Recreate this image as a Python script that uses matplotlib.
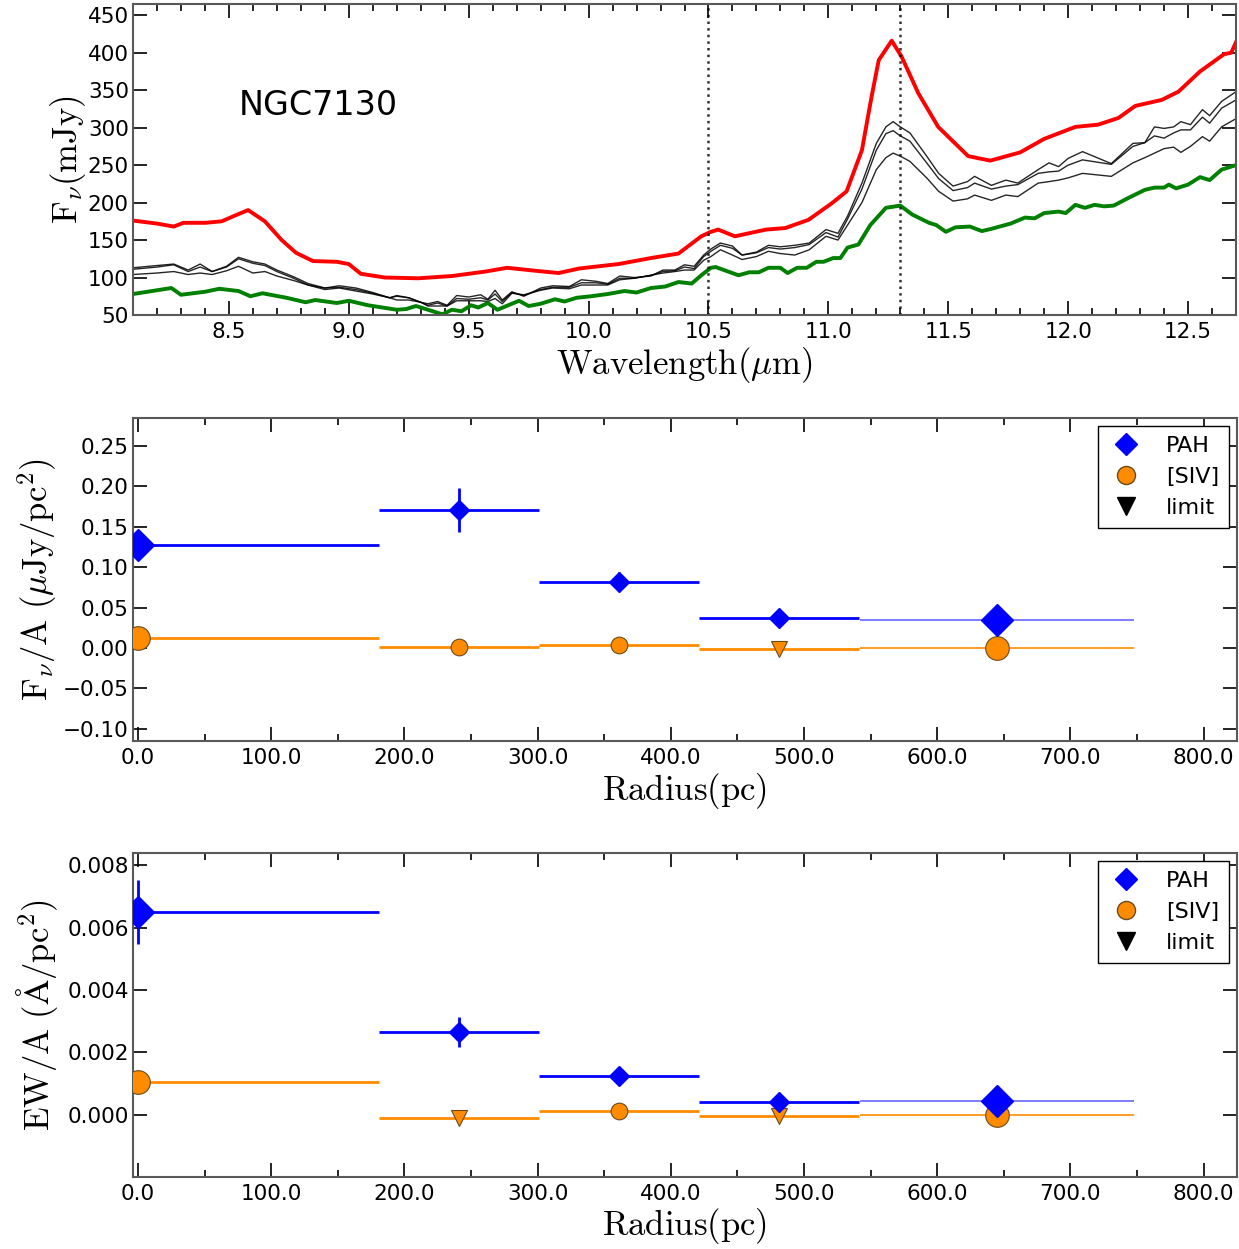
import numpy as np
import matplotlib
matplotlib.use("Agg")
import matplotlib.pyplot as plt
from matplotlib.lines import Line2D
from matplotlib.ticker import MultipleLocator, FuncFormatter

plt.rcParams["mathtext.fontset"] = "cm"
plt.rcParams["font.family"] = ["DejaVu Sans"]

# ── SPECTRA (top panel) ───────────────────────────
red_wl = [8.10, 8.20, 8.27, 8.31, 8.40, 8.47, 8.52, 8.58, 8.65, 8.72, 8.78, 8.85, 8.95,
          9.00, 9.05, 9.15, 9.29, 9.43, 9.57, 9.66, 9.78, 9.875, 9.96, 10.125, 10.26,
          10.375, 10.47, 10.51, 10.54, 10.61, 10.74, 10.82, 10.917, 11.014, 11.076,
          11.14, 11.18, 11.21, 11.264, 11.305, 11.375, 11.458, 11.583, 11.675, 11.80,
          11.90, 12.03, 12.125, 12.21, 12.28, 12.39, 12.46, 12.55, 12.65, 12.68, 12.70]
red_fx = [176, 172, 168, 173, 173, 175, 182, 190, 175, 150, 133, 122, 121,
          118, 105, 100, 99, 102, 108, 113, 109, 106, 112, 118, 126,
          132, 155, 161, 164, 155, 164, 166, 177, 199, 215,
          270, 341, 390, 416, 395, 346, 301, 262, 256, 267,
          285, 301, 304, 313, 329, 337, 348, 375, 398, 400, 414]

green_wl = [8.10, 8.26, 8.30, 8.40, 8.46, 8.54, 8.59, 8.64, 8.74, 8.82, 8.86, 8.95, 9.00,
            9.08, 9.20, 9.24, 9.28, 9.33, 9.39, 9.43, 9.47, 9.51, 9.54, 9.58, 9.62, 9.65,
            9.71, 9.75, 9.80, 9.86, 9.90, 9.95, 10.01, 10.08, 10.15, 10.20, 10.26, 10.32,
            10.375, 10.43, 10.47, 10.51, 10.53, 10.625, 10.67, 10.71, 10.75, 10.80, 10.83,
            10.87, 10.91, 10.95, 10.98, 11.02, 11.05, 11.08, 11.125, 11.175, 11.24, 11.30,
            11.35, 11.42, 11.45, 11.49, 11.53, 11.59, 11.64, 11.68, 11.76, 11.82, 11.86,
            11.90, 11.96, 11.99, 12.03, 12.07, 12.11, 12.15, 12.19, 12.25, 12.32, 12.36,
            12.40, 12.42, 12.45, 12.50, 12.55, 12.59, 12.64, 12.70]
green_fx = [78, 86, 77, 81, 85, 82, 75, 79, 73, 67, 70, 66, 69,
            63, 57, 58, 62, 57, 51, 57, 55, 63, 60, 66, 57, 61,
            69, 62, 65, 71, 68, 73, 75, 78, 82, 80, 86, 88,
            94, 92, 103, 113, 114, 103, 107, 107, 113, 113, 106,
            113, 113, 121, 121, 126, 126, 140, 144, 170, 193, 196,
            184, 173, 170, 161, 167, 168, 162, 165, 172, 180, 179,
            186, 188, 186, 197, 193, 197, 195, 196, 206, 217, 220,
            220, 224, 219, 224, 234, 230, 244, 250]

black_wl = [8.10, 8.20, 8.27, 8.33, 8.38, 8.43, 8.49, 8.54, 8.60, 8.65, 8.70, 8.77, 8.83,
            8.90, 8.96, 9.03, 9.10, 9.17, 9.20, 9.25, 9.30, 9.33, 9.37, 9.41, 9.45, 9.50,
            9.55, 9.58, 9.61, 9.64, 9.68, 9.73, 9.80, 9.85, 9.92, 9.97, 10.03, 10.08, 10.13,
            10.19, 10.26, 10.31, 10.36, 10.40, 10.44, 10.48, 10.51, 10.55, 10.60, 10.64,
            10.70, 10.75, 10.80, 10.86, 10.92, 10.99, 11.04, 11.08, 11.14, 11.20, 11.24,
            11.27, 11.30, 11.34, 11.41, 11.46, 11.52, 11.58, 11.61, 11.68, 11.74, 11.79,
            11.875, 11.92, 11.96, 12.00, 12.06, 12.18, 12.27, 12.32, 12.36, 12.40, 12.44,
            12.47, 12.51, 12.56, 12.59, 12.64, 12.70]
black1_fx = [113, 116, 118, 110, 118, 108, 115, 127, 121, 118, 110, 101, 92,
             86, 89, 86, 80, 73, 76, 73, 67, 65, 68, 63, 76, 74,
             77, 71, 83, 70, 81, 75, 86, 89, 88, 97, 95, 92, 102,
             100, 102, 110, 110, 117, 115, 130, 138, 146, 142, 130,
             134, 143, 141, 143, 146, 164, 159, 182, 226, 279, 301,
             308, 301, 293, 262, 239, 222, 228, 235, 223, 230, 226,
             244, 253, 248, 259, 268, 252, 279, 280, 301, 299, 301,
             308, 304, 324, 316, 335, 348]
black2_fx = [111, 114, 117, 108, 114, 108, 114, 125, 119, 116, 108, 99, 90,
             86, 87, 84, 79, 73, 75, 73, 67, 63, 66, 62, 72, 71,
             73, 70, 78, 68, 80, 76, 84, 87, 87, 93, 93, 91, 99,
             99, 103, 108, 109, 114, 112, 128, 135, 143, 139, 130,
             133, 140, 138, 140, 144, 160, 154, 178, 218, 270, 292,
             296, 289, 282, 253, 232, 216, 220, 226, 218, 222, 224,
             239, 241, 242, 250, 257, 251, 275, 280, 289, 286, 293,
             297, 297, 314, 306, 326, 337]
black3_fx = [104, 106, 108, 104, 106, 104, 109, 115, 106, 108, 102, 96, 90,
             84, 86, 82, 78, 73, 70, 70, 67, 62, 62, 62, 69, 69,
             69, 68, 72, 65, 79, 77, 83, 86, 85, 90, 90, 90, 97,
             99, 103, 106, 108, 110, 110, 123, 128, 137, 130, 124,
             128, 135, 132, 130, 137, 155, 150, 170, 200, 244, 260,
             266, 262, 255, 233, 215, 202, 205, 210, 203, 210, 208,
             226, 228, 230, 233, 239, 235, 253, 260, 266, 272, 274,
             267, 275, 288, 282, 301, 312]

feature_lines = [10.5, 11.3]
galaxy = "NGC7130"

# ── RADIAL PROFILES (middle / bottom) ─────────────
radius = [0, 241, 361, 481, 645]
rad_lo = [0, 60, 60, 60, 103]
rad_hi = [181, 60, 60, 60, 103]

pah_flux = [0.128, 0.171, 0.082, 0.037, 0.034]
pah_flux_err = [0.010, 0.027, 0.012, 0.004, 0.004]
siv_flux = [0.012, 0.001, 0.003, -0.001, 0.0]
siv_flux_lim = [False, False, False, True, False]

pah_ew = [0.0065, 0.00267, 0.00123, 0.00040, 0.00043]
pah_ew_err = [0.00103, 0.00048, 0.00005, 0.00003, 0.00003]
siv_ew = [0.00106, -0.0001, 0.00013, -0.00003, 0.0]
siv_ew_lim = [False, True, False, True, False]

# estilos por punto (tamaño del marcador / grosor y opacidad de la barra)
pah_ms = [16, 10, 10, 10, 16]
siv_ms = [17, 12, 12, 12, 17]
line_w = [2.0, 2.0, 2.0, 2.0, 1.2]
pah_a = [1.0, 1.0, 1.0, 1.0, 0.6]

ORANGE = "#FF8C00"
EDGE = "#6b4a1a"
TICK_FS = 15.5
LABEL_FS = 25


def fmt(spec):
    # formato con signo menos tipografico
    return FuncFormatter(lambda v, p: (spec % v).replace("-", "\u2212"))


def style_axes(ax):
    for s in ax.spines.values():
        s.set_color("0.35")
        s.set_linewidth(1.5)
    ax.tick_params(which="both", direction="in", top=True, right=True,
                   labelsize=TICK_FS, width=1.2)
    ax.tick_params(axis="x", which="both", pad=5)
    ax.tick_params(axis="y", which="both", pad=3)
    ax.tick_params(which="major", length=10)
    ax.tick_params(which="minor", length=5)


def center_labels(ax, ylab_x, xlab_y):
    ax.xaxis.label.set_va("center")
    ax.yaxis.label.set_va("center")
    ax.yaxis.label.set_ha("center")
    ax.yaxis.set_label_coords(ylab_x, 0.5)
    ax.xaxis.set_label_coords(0.5, xlab_y)


def radial_panel(ax, pah, pah_err, siv, siv_lim, ylim, ylabel, yfmt, ymajor):
    for i in range(len(radius)):
        xe = [[rad_lo[i]], [rad_hi[i]]]
        mk = "v" if siv_lim[i] else "o"
        ms = 12 if siv_lim[i] else siv_ms[i]
        ax.errorbar([radius[i]], [siv[i]], xerr=xe, fmt=mk, color=ORANGE,
                    mfc=ORANGE, mec=EDGE, mew=0.8, ms=ms, elinewidth=line_w[i],
                    ecolor=ORANGE, capsize=0, zorder=3)
    for i in range(len(radius)):
        xe = [[rad_lo[i]], [rad_hi[i]]]
        ax.errorbar([radius[i]], [pah[i]], xerr=xe, yerr=[pah_err[i]], fmt="D",
                    color="blue", mfc="blue", mec="blue", ms=pah_ms[i],
                    elinewidth=line_w[i], ecolor=(0, 0, 1, pah_a[i]), capsize=0, zorder=4)

    ax.set_xlim(-3.75, 825)
    ax.set_ylim(*ylim)
    ax.xaxis.set_major_locator(MultipleLocator(100))
    ax.xaxis.set_minor_locator(MultipleLocator(50))
    ax.xaxis.set_major_formatter(fmt("%.1f"))
    ax.yaxis.set_major_locator(MultipleLocator(ymajor))
    ax.yaxis.set_major_formatter(fmt(yfmt))
    ax.set_xlabel(r"$\mathrm{Radius(pc)}$", fontsize=LABEL_FS)
    ax.set_ylabel(ylabel, fontsize=LABEL_FS)
    style_axes(ax)

    handles = [Line2D([], [], ls="", marker="D", color="blue", ms=11),
               Line2D([], [], ls="", marker="o", mfc=ORANGE, mec=EDGE, ms=13),
               Line2D([], [], ls="", marker="v", color="black", ms=13)]
    leg = ax.legend(handles, ["PAH", "[SIV]", "limit"], loc="upper right",
                    fontsize=16, numpoints=1, fancybox=False, framealpha=1,
                    borderaxespad=0.35, handlelength=1.6, handletextpad=1.0,
                    labelspacing=0.5, borderpad=0.45)
    leg.get_frame().set_edgecolor("black")
    leg.get_frame().set_linewidth(1.0)


fig = plt.figure(figsize=(12.39, 12.49), dpi=100)
W, H = 1239.0, 1249.0

# ── PANEL 1: espectros ──
ax1 = fig.add_axes([133 / W, 1 - 315 / H, 1103 / W, 311 / H])
for fx in (black1_fx, black2_fx, black3_fx):
    ax1.plot(black_wl, fx, color="black", lw=1.0, alpha=0.85)
ax1.plot(red_wl, red_fx, color="red", lw=2.8)
ax1.plot(green_wl, green_fx, color="green", lw=2.8)
for wl in feature_lines:
    ax1.axvline(wl, color="black", ls=":", lw=1.8, alpha=0.8)
ax1.text(8.54, 329, galaxy, fontsize=24, va="center", ha="left")
ax1.set_xlim(8.1, 12.7)
ax1.set_ylim(50, 465)
ax1.xaxis.set_major_locator(MultipleLocator(0.5))
ax1.xaxis.set_minor_locator(MultipleLocator(0.1))
ax1.yaxis.set_major_locator(MultipleLocator(50))
ax1.xaxis.set_major_formatter(fmt("%.1f"))
ax1.yaxis.set_major_formatter(fmt("%d"))
ax1.set_xlabel(r"$\mathrm{Wavelength}(\mu\mathrm{m})$", fontsize=LABEL_FS)
ax1.set_ylabel(r"$\mathrm{F}_{\nu}\mathrm{(mJy)}$", fontsize=LABEL_FS)
style_axes(ax1)
center_labels(ax1, -0.059, -0.16)

# ── PANEL 2: flujo / area ──
ax2 = fig.add_axes([133 / W, 1 - 741 / H, 1104 / W, 323 / H])
radial_panel(ax2, pah_flux, pah_flux_err, siv_flux, siv_flux_lim,
             (-0.1154, 0.2848), r"$\mathrm{F_{\nu}/A\ (\mu Jy/pc^2)}$", "%.2f", 0.05)
center_labels(ax2, -0.087, -0.154)

# ── PANEL 3: EW / area ──
ax3 = fig.add_axes([133 / W, 1 - 1177 / H, 1104 / W, 324 / H])
radial_panel(ax3, pah_ew, pah_ew_err, siv_ew, siv_ew_lim,
             (-0.00199, 0.00839), r"$\mathrm{EW/A\ (\AA/pc^2)}$", "%.3f", 0.002)
center_labels(ax3, -0.087, -0.15)

plt.savefig("out.png", dpi=100)
